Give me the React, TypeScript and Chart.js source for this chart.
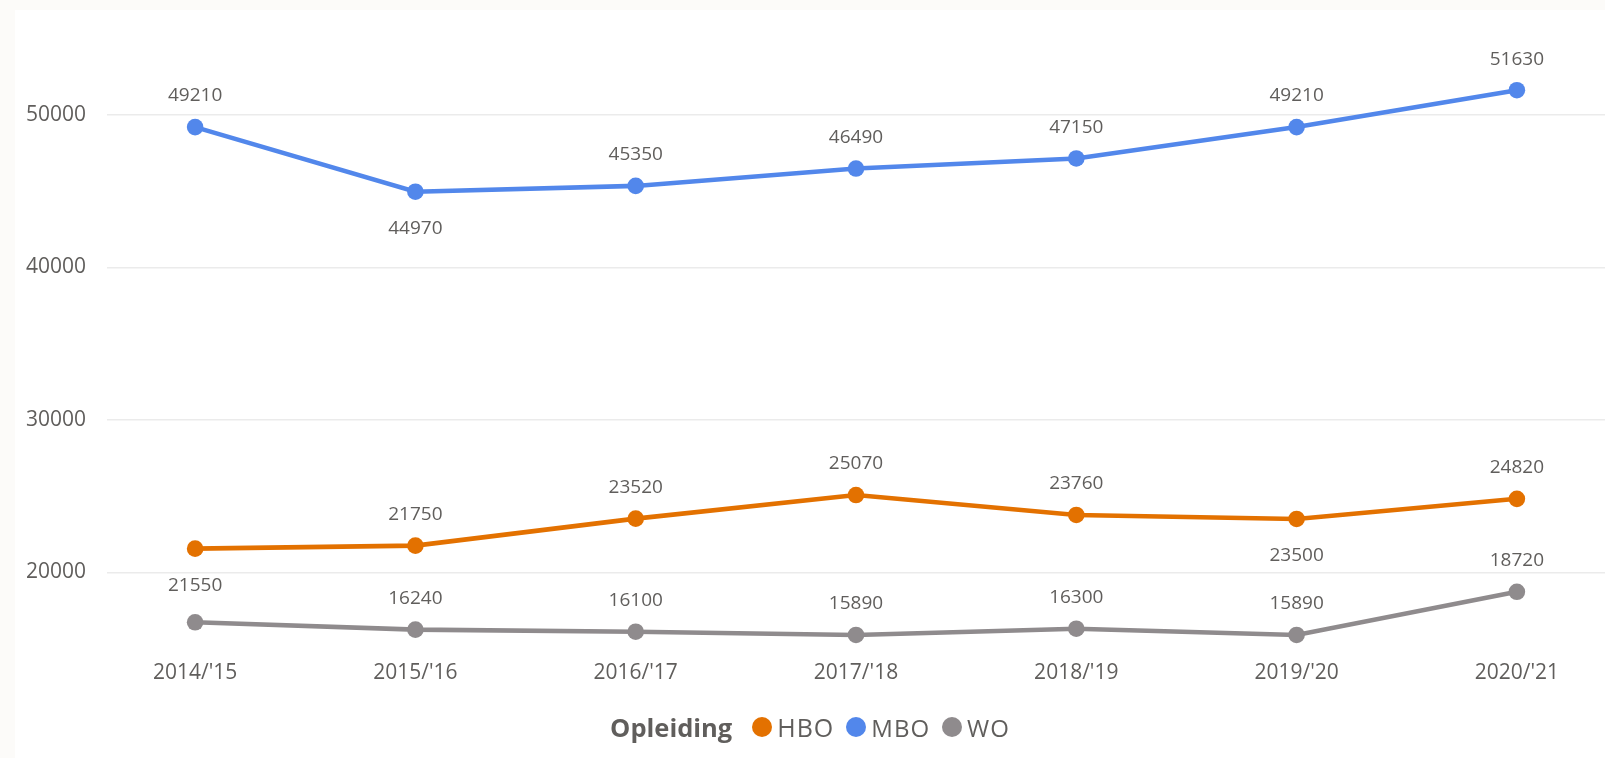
import React, { useEffect, useRef } from "react";
import { Chart, registerables } from "chart.js";

Chart.register(...registerables);

const categories = ["2014/'15", "2015/'16", "2016/'17", "2017/'18", "2018/'19", "2019/'20", "2020/'21"];
const hboValues = [21550, 21750, 23520, 25070, 23760, 23500, 24820];
const mboValues = [49210, 44970, 45350, 46490, 47150, 49210, 51630];
const woValues = [16720, 16240, 16100, 15890, 16300, 15890, 18720];
const yTicks = [20000, 30000, 40000, 50000];
const legendTitle = "Opleiding";

const seriesNames = ["HBO", "MBO", "WO"];
const seriesColors = ["#E37100", "#5287EB", "#8F8B8D"];
// label placement per point: 1 above, -1 below, 0 hidden
const labelPlacement = [
  [-1, 1, 1, 1, 1, -1, 1],
  [1, -1, 1, 1, 1, 1, 1],
  [0, 1, 1, 1, 1, 1, 1],
];

const TEXT = "#605E5C";
const FONT = "'Open Sans', 'Noto Sans', sans-serif";

const dataLabelPlugin = {
  id: "dataLabels",
  afterDatasetsDraw(chart: any) {
    const ctx = chart.ctx;
    ctx.save();
    ctx.font = `19px ${FONT}`;
    ctx.fillStyle = TEXT;
    ctx.textAlign = "center";
    ctx.textBaseline = "middle";
    chart.data.datasets.forEach((ds: any, di: number) => {
      const meta = chart.getDatasetMeta(di);
      meta.data.forEach((pt: any, i: number) => {
        const place = labelPlacement[di][i];
        if (!place) return;
        const v = ds.data[i].y;
        const y = place > 0 ? pt.y - 31 : pt.y + 37;
        ctx.fillText(String(v), pt.x, y);
      });
    });
    ctx.restore();
  },
};

export default function App() {
  const ref = useRef<HTMLCanvasElement>(null);

  useEffect(() => {
    document.body.style.margin = "0";
    document.body.style.background = "#FCFBF9";
    const all = [hboValues, mboValues, woValues];
    const chart = new Chart(ref.current!, {
      type: "line",
      data: {
        datasets: all.map((vals, di) => ({
          label: seriesNames[di],
          data: vals.map((v, i) => ({ x: i, y: v })),
          borderColor: seriesColors[di],
          backgroundColor: seriesColors[di],
          pointBackgroundColor: seriesColors[di],
          pointBorderColor: seriesColors[di],
          borderWidth: 4.6,
          pointRadius: 8.3,
          pointBorderWidth: 0,
          tension: 0,
          clip: false,
        })),
      },
      options: {
        animation: false,
        responsive: false,
        maintainAspectRatio: false,
        layout: { autoPadding: false, padding: { top: 23.6, left: 0, right: 0, bottom: 0 } },
        plugins: { legend: { display: false }, tooltip: { enabled: false } },
        scales: {
          x: {
            type: "linear",
            min: -0.4,
            max: 6.4,
            afterBuildTicks: (scale: any) => {
              scale.ticks = categories.map((_, i) => ({ value: i }));
            },
            afterFit: (scale: any) => {
              scale.height = 758 - 648.5;
              scale.paddingLeft = 0;
              scale.paddingRight = 0;
            },
            ticks: {
              callback: (v: any) => categories[v] ?? "",
              color: TEXT,
              font: { family: FONT, size: 21 },
              padding: 12,
              maxRotation: 0,
              autoSkip: false,
            },
            grid: { display: false, drawTicks: false },
            border: { display: false },
          },
          y: {
            min: 15000,
            max: 56000,
            afterBuildTicks: (scale: any) => {
              scale.ticks = yTicks.map((v) => ({ value: v }));
            },
            afterFit: (scale: any) => {
              scale.width = 107;
              scale.paddingTop = 0;
              scale.paddingBottom = 0;
            },
            ticks: {
              color: TEXT,
              font: { family: FONT, size: 21 },
              padding: 21,
              callback: (v: any) => String(v),
            },
            grid: { color: "#EBEBEB", lineWidth: 1.5, drawTicks: false },
            border: { display: false },
          },
        },
      },
      plugins: [dataLabelPlugin],
    });
    return () => chart.destroy();
  }, []);

  return (
    <div style={{ position: "relative", width: 1605, height: 758, background: "#FCFBF9", overflow: "hidden" }}>
      <div style={{ position: "absolute", left: 15, top: 10, right: 0, bottom: 0, background: "#FFFFFF" }} />
      <canvas ref={ref} width={1605} height={758} style={{ position: "absolute", left: 0, top: 0 }} />
      <div
        style={{
          position: "absolute",
          left: 15,
          width: 1590,
          top: 710,
          height: 34,
          display: "flex",
          justifyContent: "center",
          alignItems: "center",
          fontFamily: FONT,
          fontSize: 24,
          color: TEXT,
        }}
      >
        <span style={{ fontWeight: 700, fontSize: 25.5, marginRight: 20 }}>{legendTitle}</span>
        {seriesNames.map((n, i) => (
          <span key={n} style={{ display: "flex", alignItems: "center", marginRight: i < 2 ? 12 : 0 }}>
            <span
              style={{
                display: "inline-block",
                width: 20,
                height: 20,
                borderRadius: 10,
                background: seriesColors[i],
                marginRight: 5,
              }}
            />
            <span style={{ fontSize: i === 0 ? 25 : 24, letterSpacing: 1 }}>{n}</span>
          </span>
        ))}
      </div>
    </div>
  );
}
